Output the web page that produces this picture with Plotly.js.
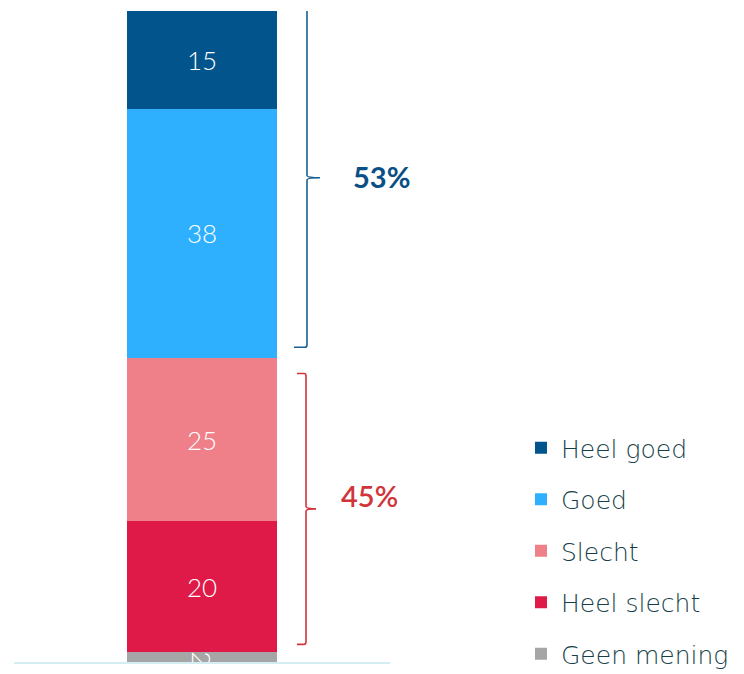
<!DOCTYPE html>
<html>
<head>
<meta charset="utf-8">
<script src="https://cdn.plot.ly/plotly-3.0.1.min.js"></script>
<style>html,body{margin:0;padding:0;background:#fff;}#chart{width:744px;height:674px;}</style>
</head>
<body>
<div id="chart"></div>
<script>
// Data (bottom to top of the stacked bar)
const categories = ['Totaal'];
const seriesNames = ['Geen mening', 'Heel slecht', 'Slecht', 'Goed', 'Heel goed'];
const geenMening = [2];
const heelSlecht = [20];
const slecht = [25];
const goed = [38];
const heelGoed = [15];
const positiveLabel = '53%';
const negativeLabel = '45%';

const colors = ['#a6a6a6', '#e01a48', '#ef7f88', '#2eb0ff', '#02558c'];
const seriesValues = [geenMening, heelSlecht, slecht, goed, heelGoed];

const numFont = {family: 'Lato, "Open Sans", sans-serif', size: 26, color: '#ffffff', weight: 300};

const traces = seriesValues.map((vals, i) => ({
  type: 'bar',
  x: [0],
  y: vals,
  name: seriesNames[i],
  legendgroup: 'g' + i,
  legendrank: seriesValues.length - i,
  marker: {color: colors[i], line: {width: 0}},
  width: 0.803,
  text: vals.map(String),
  textposition: 'inside',
  insidetextanchor: 'middle',
  constraintext: 'none',
  textfont: numFont,
  hoverinfo: 'skip'
}));

// bracket geometry derived from the data
const negTop = geenMening[0] + heelSlecht[0] + slecht[0];
const total = negTop + goed[0] + heelGoed[0];
const L = 14, W = 376;
const xp = px => (px - L) / W;

function bracket(x0, xv, xtip, lo, hi) {
  const mid = (lo + hi) / 2;
  const h = 0.35;
  return `M${xp(x0)},${hi} L${xp(xv - 2)},${hi} Q${xp(xv)},${hi} ${xp(xv)},${hi - h} ` +
         `L${xp(xv)},${mid + h} Q${xp(xv)},${mid} ${xp(xtip)},${mid} ` +
         `Q${xp(xv)},${mid} ${xp(xv)},${mid - h} L${xp(xv)},${lo + h} ` +
         `Q${xp(xv)},${lo} ${xp(xv - 2)},${lo} L${xp(x0)},${lo}`;
}

const blueLo = negTop + 1.6, blueHi = total + 0.45;
const redLo = geenMening[0] + 1.2, redHi = negTop - 2.4;

const layout = {
  width: 744, height: 674,
  margin: {l: L, r: 744 - L - W, t: 11, b: 12, autoexpand: false},
  paper_bgcolor: '#ffffff', plot_bgcolor: '#ffffff',
  barmode: 'stack',
  bargap: 0,
  showlegend: true,
  xaxis: {range: [-1, 1], showgrid: false, zeroline: false, showticklabels: false, ticks: '',
          showline: true, linecolor: '#d3eef3', linewidth: 2, fixedrange: true},
  yaxis: {range: [0.5, 100], showgrid: false, zeroline: false, showticklabels: false, ticks: '',
          showline: false, fixedrange: true},
  legend: {
    x: (521 - L) / W, xanchor: 'left', y: (662 - 425) / 651, yanchor: 'top',
    traceorder: 'grouped', tracegroupgap: 16,
    font: {family: '"DejaVu Sans", Lato, sans-serif', size: 25, color: '#173f49', weight: 200},
    bgcolor: 'rgba(0,0,0,0)'
  },
  shapes: [
    {type: 'path', xref: 'paper', yref: 'y', path: bracket(294, 307, 320, blueLo, blueHi),
     line: {color: '#1a5f92', width: 1.6}},
    {type: 'path', xref: 'paper', yref: 'y', path: bracket(297, 306, 316, redLo, redHi),
     line: {color: '#d2343c', width: 1.6}}
  ],
  annotations: [
    {xref: 'paper', yref: 'y', x: xp(381), y: (blueLo + blueHi) / 2 + 0.2, text: positiveLabel,
     showarrow: false, xanchor: 'center', yanchor: 'middle',
     font: {family: 'Lato, sans-serif', size: 29, color: '#0b4f87', weight: 700}},
    {xref: 'paper', yref: 'y', x: xp(369), y: (redLo + redHi) / 2 + 2.1, text: negativeLabel,
     showarrow: false, xanchor: 'center', yanchor: 'middle',
     font: {family: 'Lato, sans-serif', size: 29, color: '#d1343b', weight: 600}}
  ]
};

Plotly.newPlot('chart', traces, layout, {displayModeBar: false, staticPlot: true});
</script>
</body>
</html>
